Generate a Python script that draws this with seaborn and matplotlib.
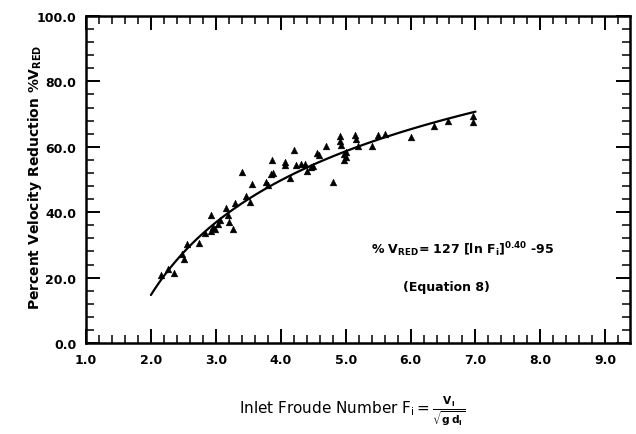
import numpy as np
import pandas as pd
import matplotlib
matplotlib.use("Agg")
import matplotlib.pyplot as plt
from matplotlib.ticker import MultipleLocator, FormatStrFormatter
import seaborn as sns

# Observed data (Froude number, percent velocity reduction)
froude = [2.15, 2.26, 2.36, 2.48, 2.51, 2.55, 2.74, 2.83, 2.92, 2.93,
          2.96, 2.99, 3.03, 3.07, 3.16, 3.19, 3.20, 3.27, 3.29, 3.40,
          3.47, 3.52, 3.56, 3.78, 3.80, 3.85, 3.88, 3.87, 4.06, 4.07,
          4.15, 4.20, 4.24, 4.32, 4.38, 4.41, 4.46, 4.49, 4.56, 4.59,
          4.69, 4.81, 4.91, 4.92, 4.93, 4.97, 5.00, 4.98, 5.01, 5.15,
          5.16, 5.19, 5.40, 5.50, 5.61, 6.00, 6.36, 6.57, 6.96, 6.96]
vred = [20.9, 22.6, 21.3, 27.2, 25.7, 30.3, 30.5, 33.5, 39.2, 34.3,
        35.5, 35.0, 36.4, 37.6, 41.3, 39.2, 36.9, 34.9, 42.7, 52.2,
        45.0, 43.2, 48.6, 49.1, 48.3, 51.7, 52.0, 56.1, 55.3, 54.5,
        50.4, 59.1, 54.5, 54.7, 54.7, 52.7, 53.8, 54.1, 58.1, 57.4,
        60.3, 49.3, 63.2, 61.9, 60.6, 57.8, 58.3, 56.1, 57.0, 63.6,
        62.4, 60.3, 60.3, 63.6, 63.8, 62.9, 66.5, 67.8, 69.5, 67.5]

# Fitted relation shown on the chart: %V_RED = 127 [ln F]^0.40 - 95  (Equation 8)
eq_coef = 127.0
eq_exp = 0.40
eq_offset = 95.0
curve_f = np.linspace(2.0, 7.0, 120)
curve_v = eq_coef * np.log(curve_f) ** eq_exp - eq_offset

x_ticks = [1.0, 2.0, 3.0, 4.0, 5.0, 6.0, 7.0, 8.0, 9.0]
y_ticks = [0.0, 20.0, 40.0, 60.0, 80.0, 100.0]

sns.set_theme(style="white")
plt.rcParams["font.family"] = ["DejaVu Sans"]
plt.rcParams["mathtext.fontset"] = "dejavusans"
plt.rcParams["text.color"] = "black"
plt.rcParams["axes.labelcolor"] = "black"
plt.rcParams["xtick.color"] = "black"
plt.rcParams["ytick.color"] = "black"

df = pd.DataFrame({"F": froude, "V": vred})
cdf = pd.DataFrame({"F": curve_f, "V": curve_v})

fig = plt.figure(figsize=(6.36, 4.35), dpi=100)
ax = fig.add_axes([0.1352, 0.2092, 0.8553, 0.7517])

sns.lineplot(data=cdf, x="F", y="V", ax=ax, color="black", linewidth=1.6)
sns.scatterplot(data=df, x="F", y="V", ax=ax, marker="^", s=24,
                color="black", edgecolor="black", linewidth=0.3, zorder=3)

ax.set_xlim(1.0, 9.38)
ax.set_ylim(0.0, 100.0)
ax.set_xticks(x_ticks)
ax.set_yticks(y_ticks)
ax.xaxis.set_minor_locator(MultipleLocator(0.2))
ax.yaxis.set_minor_locator(MultipleLocator(4))
ax.xaxis.set_major_formatter(FormatStrFormatter("%.1f"))
ax.yaxis.set_major_formatter(FormatStrFormatter("%.1f"))

ax.tick_params(which="both", direction="in", top=True, right=True,
               bottom=True, left=True, colors="black", labelcolor="black")
ax.tick_params(which="major", length=10, width=1.4, pad=7)
ax.tick_params(which="minor", length=6, width=1.1)
for lab in ax.get_xticklabels() + ax.get_yticklabels():
    lab.set_fontweight("bold")
    lab.set_fontsize(9)
    lab.set_color("black")

for sp in ax.spines.values():
    sp.set_color("black")
    sp.set_linewidth(1.8)

ax.set_ylabel(r"Percent Velocity Reduction %V$_{\mathbf{RED}}$",
              fontsize=10, fontweight="bold", color="black")
ax.yaxis.set_label_coords(-0.078, 0.51)
ax.set_xlabel(r"Inlet Froude Number F$_{\mathrm{i}}$$=\frac{\mathbf{V_i}}{\sqrt{\mathbf{g\,d_i}}}$",
              fontsize=11, color="black")
ax.xaxis.set_label_coords(0.49, -0.155)

ax.text(6.8, 29.0,
        r"% V$_{\mathbf{RED}}$= 127 [ln F$_{\mathbf{i}}$]$^{\mathbf{0.40}}$ -95",
        ha="center", va="center", fontsize=9, fontweight="bold", color="black")
ax.text(6.55, 17.4, "(Equation 8)", ha="center", va="center",
        fontsize=9, fontweight="bold", color="black")

fig.savefig("out.png", dpi=100)
